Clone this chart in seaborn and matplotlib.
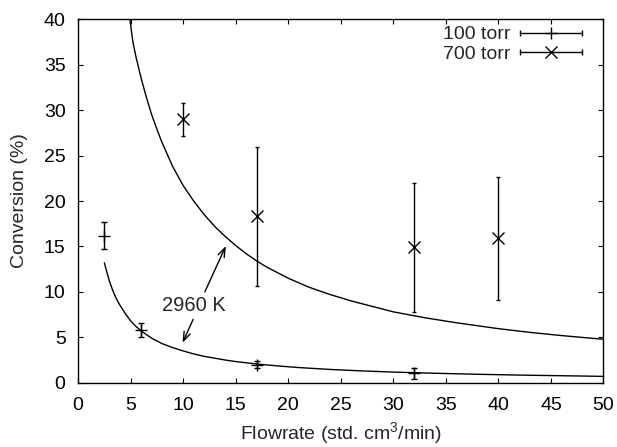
import matplotlib
matplotlib.use('Agg')
import matplotlib.pyplot as plt
import seaborn as sns
from matplotlib.legend_handler import HandlerBase
from matplotlib.lines import Line2D

# ---- data ----
flow_100 = [2.5, 6, 17, 32]
conv_100 = [16.2, 5.8, 2.0, 1.05]
err_100 = [1.5, 0.75, 0.4, 0.6]

flow_700 = [10, 17, 32, 40]
conv_700 = [29.0, 18.3, 14.9, 15.9]
err_700 = [1.8, 7.7, 7.1, 6.75]

# model curves (2960 K)
model_700_x = [4.93, 5.2, 5.5, 6, 6.5, 7, 7.5, 8, 9, 10, 11, 12, 13, 14, 15,
               16, 17, 18, 20, 22, 24, 26, 28, 30, 33, 36, 40, 43, 46, 50]
model_700_y = [40.0, 37.6, 35.9, 33.5, 31.4, 29.5, 27.9, 26.4, 23.8, 21.7,
               20.0, 18.5, 17.2, 16.1, 15.1, 14.2, 13.4, 12.7, 11.5, 10.5,
               9.7, 9.0, 8.4, 7.8, 7.15, 6.6, 5.95, 5.54, 5.19, 4.78]

model_100_x = [2.5, 2.75, 3, 3.25, 3.5, 3.75, 4, 4.5, 5, 5.5, 6, 7, 8, 9, 10,
               11, 12, 13, 14, 15, 17, 19, 21, 24, 27, 30, 34, 38, 42, 46, 50]
model_100_y = [13.2, 12.1, 11.1, 10.3, 9.6, 9.0, 8.5, 7.6, 6.8, 6.2, 5.7, 4.9,
               4.3, 3.86, 3.5, 3.17, 2.9, 2.7, 2.5, 2.33, 2.06, 1.85, 1.67,
               1.46, 1.3, 1.17, 1.04, 0.93, 0.84, 0.77, 0.70]

x_ticks = [0, 5, 10, 15, 20, 25, 30, 35, 40, 45, 50]
y_ticks = [0, 5, 10, 15, 20, 25, 30, 35, 40]
series_labels = ['100 torr', '700 torr']
annot_text = '2960 K'

sns.set_theme(style='ticks')
plt.rcParams['font.family'] = ['Liberation Sans', 'DejaVu Sans']
plt.rcParams['mathtext.fontset'] = 'custom'
plt.rcParams['mathtext.rm'] = 'Liberation Sans'
plt.rcParams['mathtext.it'] = 'Liberation Sans:italic'
plt.rcParams['mathtext.bf'] = 'Liberation Sans:bold'

FS = 14


class ErrKey(HandlerBase):
    def create_artists(self, legend, orig_handle, xdescent, ydescent,
                       width, height, fontsize, trans):
        y = (height - ydescent) / 2.0
        x0 = -xdescent
        x1 = -xdescent + width
        xm = (x0 + x1) / 2.0
        line = Line2D([x0, x1], [y, y], color='black', lw=1.0)
        caps = Line2D([x0, x1], [y, y], ls='none', marker='|', ms=4,
                      mew=1.0, color='black')
        mk = Line2D([xm], [y], ls='none', marker=orig_handle.get_marker(),
                    ms=orig_handle.get_markersize(), mew=1.0, color='black')
        for a in (line, caps, mk):
            a.set_transform(trans)
        return [line, caps, mk]


fig = plt.figure(figsize=(6.17, 4.47), dpi=100)
ax = fig.add_axes([0.1266, 0.1438, 0.8515, 0.813])

sns.lineplot(x=model_700_x, y=model_700_y, sort=False, color='black',
             lw=1.0, ax=ax, legend=False)
sns.lineplot(x=model_100_x, y=model_100_y, sort=False, color='black',
             lw=1.0, ax=ax, legend=False)

ax.errorbar(flow_100, conv_100, yerr=err_100, fmt='+', ms=8.5, mew=1.0,
            color='black', ecolor='black', elinewidth=1.0, capsize=2.4,
            capthick=1.0)
ax.errorbar(flow_700, conv_700, yerr=err_700, fmt='x', ms=9, mew=1.0,
            color='black', ecolor='black', elinewidth=1.0, capsize=1.6,
            capthick=1.0)

p100 = Line2D([], [], marker='+', ms=8.5, color='black')
p700 = Line2D([], [], marker='x', ms=9, color='black')
ax.legend(handles=[p100, p700], labels=series_labels,
          handler_map={Line2D: ErrKey()}, loc='upper right',
          bbox_to_anchor=(0.9585, 0.982), frameon=False, markerfirst=False,
          handlelength=3.15, handletextpad=0.5, labelspacing=0.08,
          borderpad=0, borderaxespad=0, fontsize=FS)

ax.text(11.0, 8.52, annot_text, ha='center', va='center', fontsize=14.5)
arrow = dict(arrowstyle='->,head_length=0.55,head_width=0.2', color='black',
             lw=1.0, shrinkA=0, shrinkB=0)
ax.annotate('', xy=(14.06, 15.05), xytext=(12.06, 10.0), arrowprops=arrow)
ax.annotate('', xy=(9.94, 4.40), xytext=(10.95, 6.98), arrowprops=arrow)

ax.set_xlim(0, 50)
ax.set_ylim(0, 40)
ax.set_xticks(x_ticks)
ax.set_yticks(y_ticks)
ax.tick_params(axis='x', pad=10)
ax.tick_params(axis='y', pad=9)
ax.tick_params(direction='in', top=True, right=True, length=3.5, width=0.8,
               labelsize=FS, colors='black')
for s in ax.spines.values():
    s.set_linewidth(1.0)
    s.set_color('black')

ax.set_xlabel('Flowrate (std. cm$^{3}$/min)', fontsize=FS)
ax.set_ylabel('Conversion (%)', fontsize=FS)
ax.xaxis.set_label_coords(0.5, -0.104)
ax.yaxis.set_label_coords(-0.0954, 0.5)

fig.savefig('out.png', dpi=100)
